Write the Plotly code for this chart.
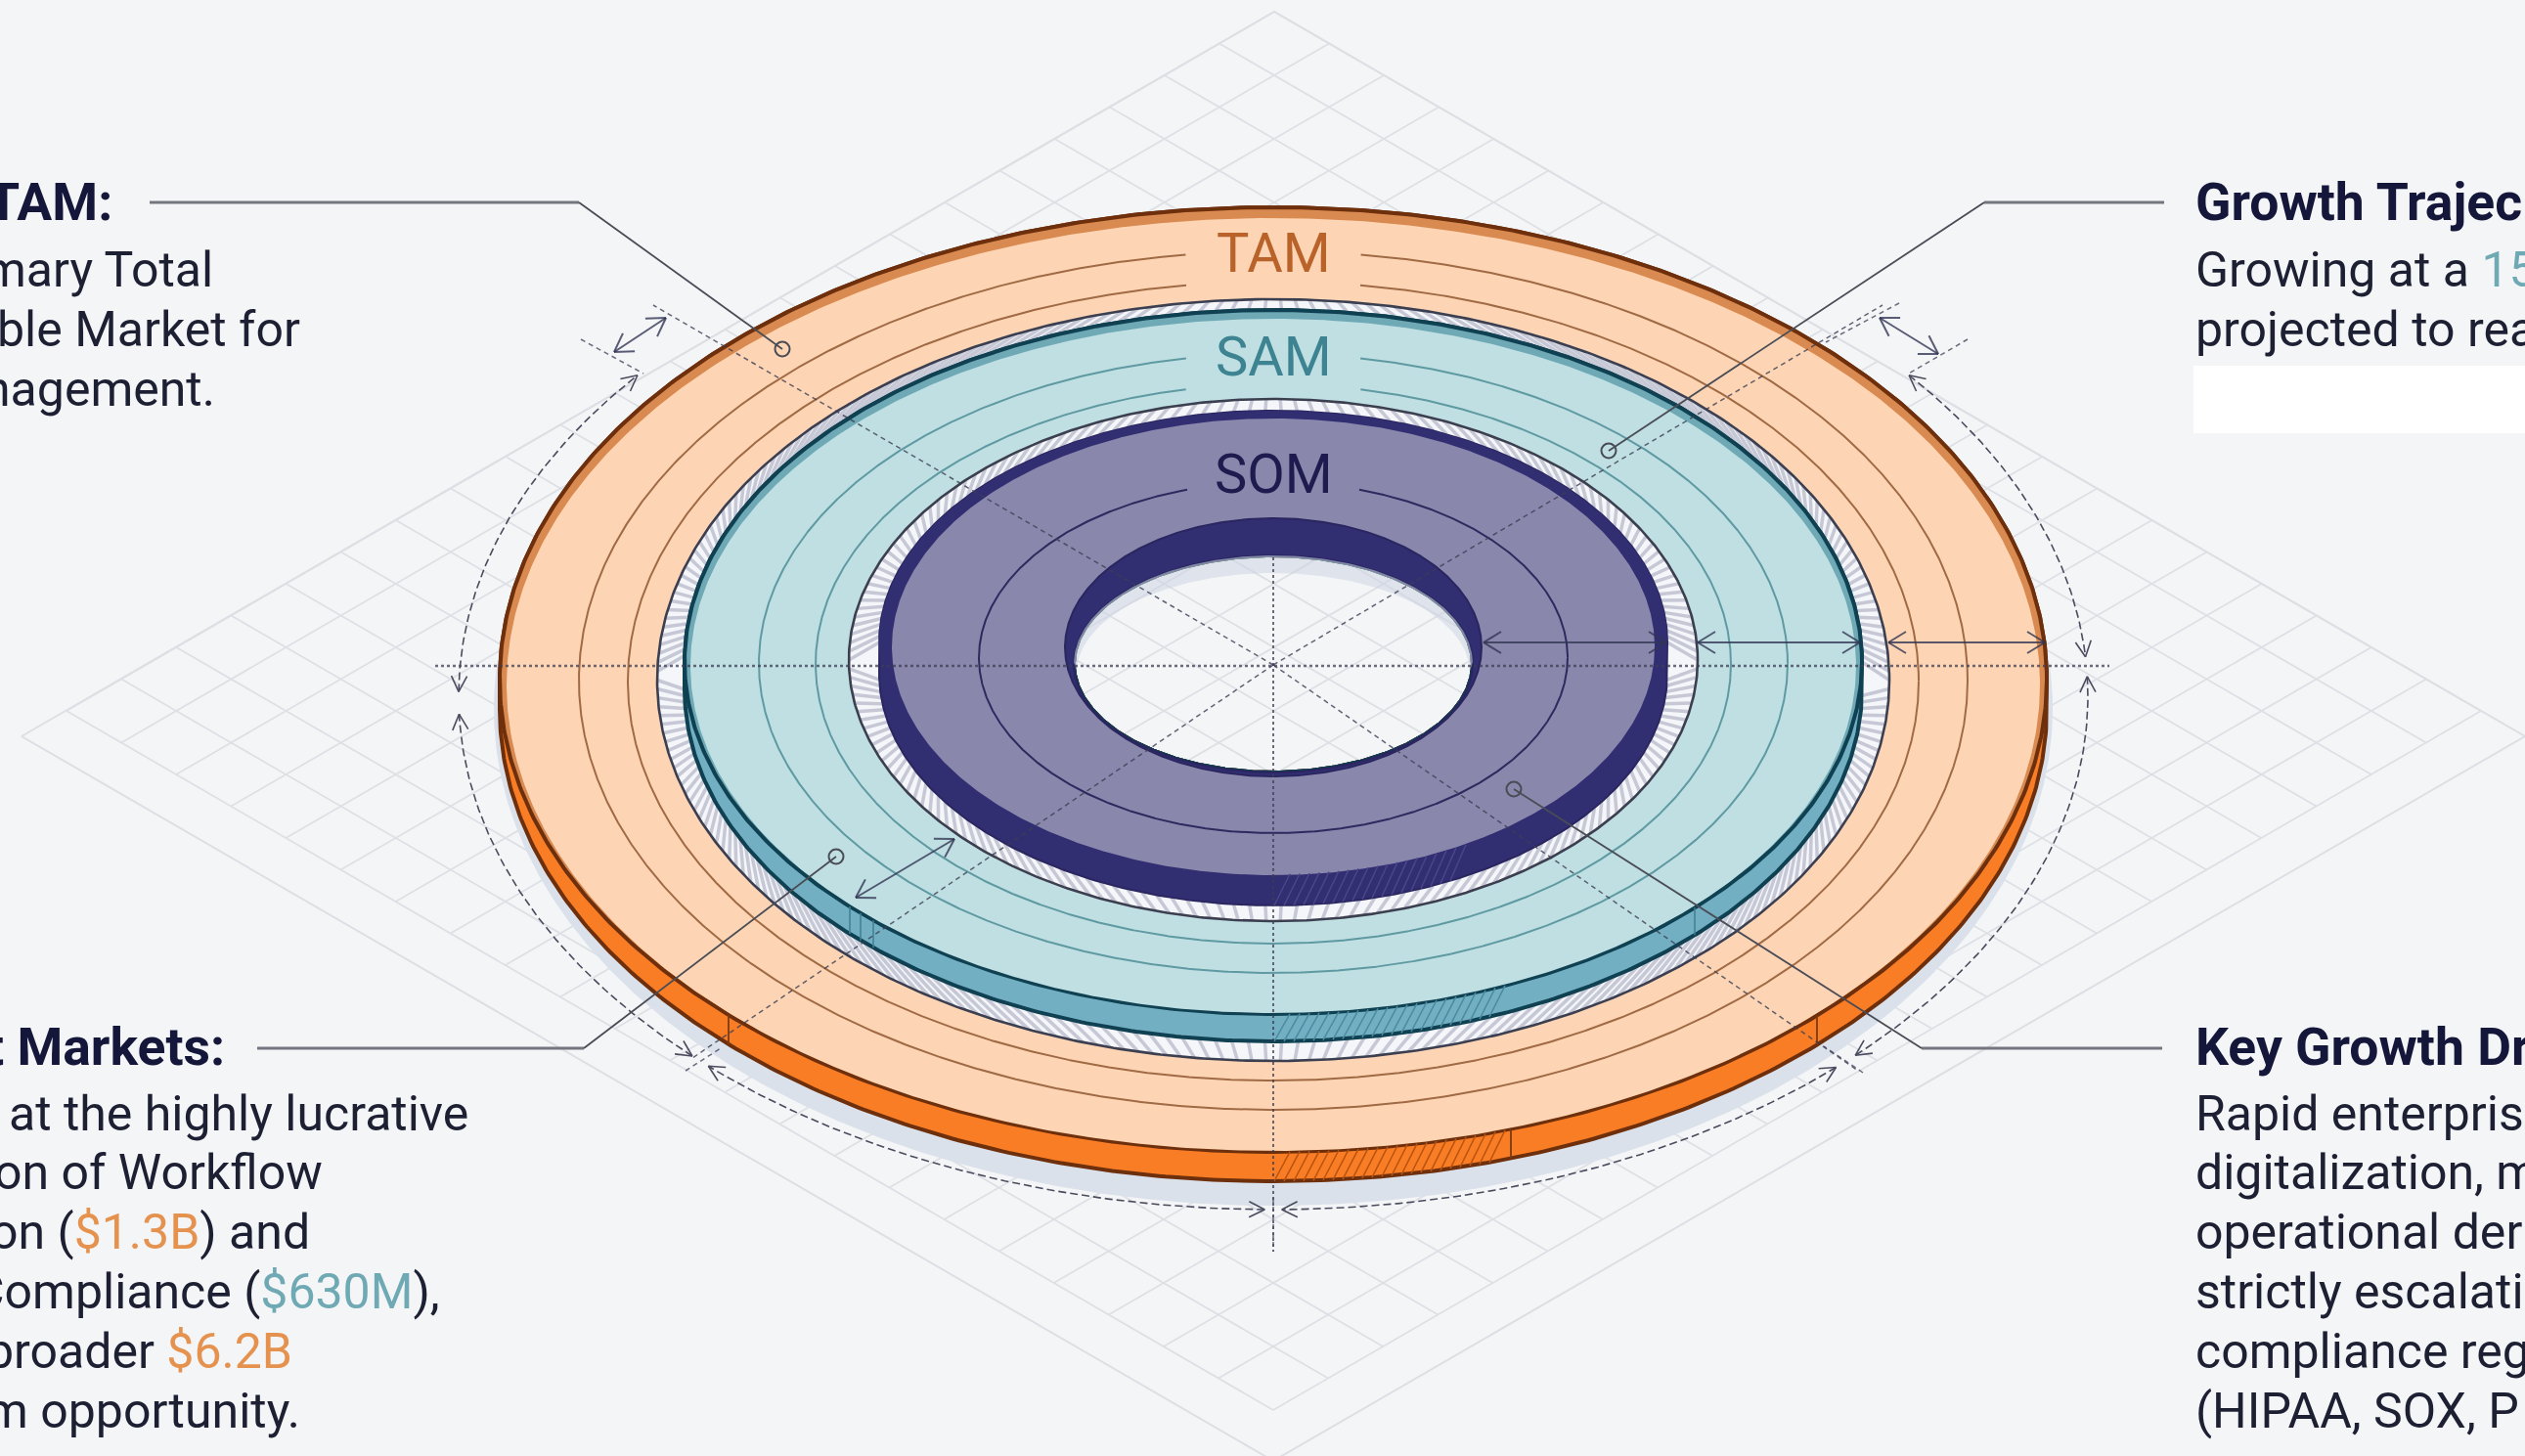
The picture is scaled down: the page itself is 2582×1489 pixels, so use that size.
import numpy as np
import plotly.graph_objects as go

W, H = 2582, 1489
BG = "#f4f5f7"
CX = 1302

# ---- disc geometry: centre y, x radius, y radius, wall depth
TAM_DISC = dict(cy=695, rx=791, ry=483, depth=30)
SAM_DISC = dict(cy=677, rx=602, ry=360, depth=28)
SOM_DISC = dict(cy=657, rx=403, ry=237, depth=32)
GAP_OUTER = dict(cy=695.5, rx=630, ry=389.5)
GAP_INNER = dict(cy=675, rx=434, ry=267)
HOLE_TOP = dict(cy=662, rx=213, ry=132)
HOLE = dict(cy=679, rx=204, ry=111)
SHADOW = dict(cy=725, rx=797, ry=508)
DIM_ARC = dict(cy=712, rx=833, ry=525)

TAM_RINGS = [(696, 710, 439), (696.5, 660, 408.5)]
SAM_RINGS = [(678.5, 526, 316.5), (679, 468, 286)]
SOM_RINGS = [(672.5, 301, 179.5)]

LABELS = ["TAM", "SAM", "SOM"]
LABEL_Y = [259, 365, 485]
LABEL_COL = ["#b9622a", "#3d8391", "#1e1b4e"]

# floor grid corners
GRID_LEFT = (68, 727)
GRID_TOP = (1303, 12)
GRID_BOTTOM = (1302, 1442)
GRID_CELLS = 22
GRID_OUTLINE = [(22, 753), (1303, 12), (2582, 753), (1302, 1494), (22, 753)]

SPOKES = [(668, 312), (1925, 312), (708, 1082), (1900, 1095)]
DIM_ARROWS = [((1517, 657), (1704, 657)), ((1736, 657), (1902, 657)), ((1931, 657), (2091, 657)),
              ((681, 325), (628, 360)), ((1922, 325), (1982, 362)), ((976, 858), (875, 918))]
DIM_TICKS = [((594, 347), (658, 382)), ((1942, 310), (1867, 350)), ((2012, 347), (1950, 383)),
             ((701, 1095), (737, 1072)), ((1905, 1097), (1865, 1070)), ((1302, 1225), (1302, 1280))]
ARC_SPANS_DEG = [(-38.7, -4.4), (-2.2, 44.4), (46.3, 89.4), (90.6, 133.9), (135.5, 178), (180.5, 218.7)]

LEADERS = [
    ((153, 207), (592, 207), (800, 357)),
    ((2213, 207), (2029, 207), (1645, 461)),
    ((263, 1072), (597, 1072), (855, 876)),
    ((2211, 1072), (1965, 1072), (1548, 807)),
]

ORANGE = "#e5924f"
TEAL = "#6fa9b3"
INK = "#1d2033"
HEAD = "#14163a"

# text, anchor x, y, bold
LEFT_TEXT = [
    ("TAM:", 117, 206, True),
    ("mary Total", 220, 276, False),
    ("ble Market for", 309, 337, False),
    ("nagement.", 222, 398, False),
    ("t Markets:", 232, 1070, True),
    ("at the highly lucrative", 481, 1139, False),
    ("on of Workflow", 332, 1199, False),
    (f"on (<span style='color:{ORANGE}'>$1.3B</span>) and", 319, 1260, False),
    (f"Compliance (<span style='color:{TEAL}'>$630M</span>),", 452, 1321, False),
    (f"broader <span style='color:{ORANGE}'>$6.2B</span>", 301, 1382, False),
    ("m opportunity.", 309, 1443, False),
]
RIGHT_TEXT = [
    ("Growth Trajec", 2243, 206, True),
    (f"Growing at a <span style='color:{TEAL}'>15</span>", 2243, 276, False),
    ("projected to rea", 2243, 337, False),
    ("Key Growth Dr", 2243, 1070, True),
    ("Rapid enterpris", 2243, 1139, False),
    ("digitalization, m", 2243, 1199, False),
    ("operational der", 2243, 1260, False),
    ("strictly escalati", 2243, 1321, False),
    ("compliance reg", 2243, 1382, False),
    ("(HIPAA, SOX, P", 2243, 1443, False),
]

fig = go.Figure()


def ell(cy, rx, ry, n=721, cx=CX):
    t = np.linspace(0, 2 * np.pi, n)
    return cx + rx * np.cos(t), cy + ry * np.sin(t)


def hull(d, n=721):
    t = np.linspace(0, 2 * np.pi, n)
    s = np.sin(t)
    return CX + d["rx"] * np.cos(t), d["cy"] + d["ry"] * s + d["depth"] * (s > 0)


def add_line(x, y, color, width=1.5, dash=None):
    fig.add_trace(go.Scatter(x=list(x), y=list(y), mode="lines", hoverinfo="skip",
                             line=dict(color=color, width=width, dash=dash)))


def add_fill(x, y, color, line=None, width=0, hole=None):
    x, y = list(x), list(y)
    if hole is not None:
        hx, hy = ell(hole["cy"], hole["rx"], hole["ry"])
        x += [None] + list(hx[::-1])
        y += [None] + list(hy[::-1])
    fig.add_trace(go.Scatter(x=x, y=y, mode="lines", fill="toself", fillcolor=color, hoverinfo="skip",
                             line=dict(color=line or "rgba(0,0,0,0)", width=width)))


def segs(pairs):
    xs, ys = [], []
    for a, b in pairs:
        xs += [a[0], b[0], None]
        ys += [a[1], b[1], None]
    return xs, ys


# ---- isometric floor grid
L = np.array(GRID_LEFT, float)
up = np.array(GRID_TOP, float) - L
down = np.array(GRID_BOTTOM, float) - L
pairs = []
for i in range(GRID_CELLS + 1):
    f = i / GRID_CELLS
    pairs.append((L + up * f, L + up * f + down))
    pairs.append((L + down * f, L + down * f + up))
x, y = segs(pairs)
add_line(x, y, "#dde0e4", 1.8)
add_line([p[0] for p in GRID_OUTLINE], [p[1] for p in GRID_OUTLINE], "#dcdfe3", 2)

# ---- shadow
sx, sy = ell(SHADOW["cy"], SHADOW["rx"], SHADOW["ry"])
add_fill(sx, sy, "#dbe1ea", hole=HOLE)

# ---- TAM
hx, hy = hull(TAM_DISC)
add_fill(hx, hy, "#f97d25", "#6e2f0c", 4, hole=HOLE)
ex, ey = ell(TAM_DISC["cy"], TAM_DISC["rx"], TAM_DISC["ry"])
add_fill(ex, ey, "#d98a50", "#6e2f0c", 4, hole=HOLE)
ex, ey = ell(TAM_DISC["cy"] + 5, TAM_DISC["rx"] - 7, TAM_DISC["ry"] - 6)
add_fill(ex, ey, "#fdd5b4", hole=HOLE)


def arc_gap(cy, rx, ry, gap=88):
    x, y = ell(cy, rx, ry, 1441)
    mask = (np.abs(x - CX) < gap) & (y < cy)
    xs = [None if m else float(v) for v, m in zip(x, mask)]
    ys = [None if m else float(v) for v, m in zip(y, mask)]
    return xs, ys


for cy, rx, ry in TAM_RINGS:
    x, y = arc_gap(cy, rx, ry)
    add_line(x, y, "#a06a45", 2)


def wall_hatch(d, x0, x1, color, shift=16, step=10):
    pairs = []
    for xb in np.arange(x0, x1 - shift, step):
        xt = xb + shift
        yt = d["cy"] + d["ry"] * np.sqrt(1 - ((xt - CX) / d["rx"]) ** 2)
        yb = d["cy"] + d["depth"] + d["ry"] * np.sqrt(1 - ((xb - CX) / d["rx"]) ** 2)
        pairs.append(((xb, yb), (xt, yt)))
    x, y = segs(pairs)
    add_line(x, y, color, 1.5)


def wall_tick(d, xpos, color, width=1.8):
    yt = d["cy"] + d["ry"] * np.sqrt(1 - ((xpos - CX) / d["rx"]) ** 2)
    add_line([xpos, xpos], [yt, yt + d["depth"]], color, width)


wall_hatch(TAM_DISC, 1303, 1545, "#b85310")
for xp in (1545, 745, 1858):
    wall_tick(TAM_DISC, xp, "#7a3a12")


def gap_hatch(outer, inner, n, color="#c6c8d6"):
    pairs = []
    for t in np.linspace(0, 2 * np.pi, n, endpoint=False):
        tp = t - 0.11 * np.sin(2 * t)
        o = (CX + outer["rx"] * np.cos(t), outer["cy"] + outer["ry"] * np.sin(t))
        s = np.sin(tp)
        i = (CX + inner["rx"] * np.cos(tp), inner["cy"] + inner["ry"] * s + inner.get("depth", 0) * (s > 0))
        pairs.append((o, i))
    x, y = segs(pairs)
    add_line(x, y, color, 3.5)


# ---- gap TAM/SAM
ex, ey = ell(GAP_OUTER["cy"], GAP_OUTER["rx"], GAP_OUTER["ry"])
add_fill(ex, ey, "#f5f6f9", hole=HOLE)
gap_hatch(GAP_OUTER, SAM_DISC, 270)
add_line(ex, ey, "#3b3f50", 2.6)

# ---- SAM
hx, hy = hull(SAM_DISC)
add_fill(hx, hy, "#72afc2", "#0f4152", 4, hole=HOLE)
ex, ey = ell(SAM_DISC["cy"], SAM_DISC["rx"], SAM_DISC["ry"])
add_fill(ex, ey, "#6ea9b5", "#0f4152", 4, hole=HOLE)
ex, ey = ell(SAM_DISC["cy"] + 4, SAM_DISC["rx"] - 6, SAM_DISC["ry"] - 5)
add_fill(ex, ey, "#bfdfe2", hole=HOLE)
for cy, rx, ry in SAM_RINGS:
    x, y = arc_gap(cy, rx, ry)
    add_line(x, y, "#5f9aa3", 2)
wall_hatch(SAM_DISC, 1303, 1540, "#4a8ba0")
for xp in (869, 880, 893, 1733):
    wall_tick(SAM_DISC, xp, "#3e7f92", 1.5)

# ---- gap SAM/SOM
ex, ey = ell(GAP_INNER["cy"], GAP_INNER["rx"], GAP_INNER["ry"])
add_fill(ex, ey, "#f5f6f9", hole=HOLE)
gap_hatch(GAP_INNER, SOM_DISC, 190)
add_line(ex, ey, "#3b3f50", 2.6)

# ---- SOM
hx, hy = hull(SOM_DISC)
add_fill(hx, hy, "#322e72", "#2a265f", 2, hole=HOLE)
ex, ey = ell(SOM_DISC["cy"], SOM_DISC["rx"], SOM_DISC["ry"])
add_fill(ex, ey, "#322e72", hole=HOLE)
ex, ey = ell(SOM_DISC["cy"] + 4.5, SOM_DISC["rx"] - 13, SOM_DISC["ry"] - 3.5)
add_fill(ex, ey, "#8a87ac", hole=HOLE_TOP)
for cy, rx, ry in SOM_RINGS:
    x, y = arc_gap(cy, rx, ry)
    add_line(x, y, "#2c2a5e", 2)
wall_hatch(SOM_DISC, 1303, 1505, "#4a468a")
# hole wall
ex, ey = ell(HOLE_TOP["cy"], HOLE_TOP["rx"], HOLE_TOP["ry"])
add_fill(ex, ey, "#322e72", "#2a265f", 2, hole=HOLE)
# soft shade at the top of the opening
hx, hy = ell(HOLE["cy"], HOLE["rx"], HOLE["ry"], 361)
ix, iy = ell(HOLE["cy"] + 9, HOLE["rx"] - 3, HOLE["ry"] - 9, 361)
mask = hy < HOLE["cy"]
imask = iy < HOLE["cy"] + 9
add_fill(list(hx[mask]) + list(ix[imask][::-1]), list(hy[mask]) + list(iy[imask][::-1]),
         "rgba(205,212,228,0.55)")

# ---- centre lines
DOT = "rgba(60,62,84,0.75)"
add_line([445, 2157], [681, 681], DOT, 2.5, "dot")
add_line([CX, CX], [570, 1280], DOT, 2, "3px,3px")
sp_x, sp_y = segs([((CX, 680), s) for s in SPOKES])
add_line(sp_x, sp_y, "rgba(60,62,84,0.8)", 1.5, "5px,4px")
tk_x, tk_y = segs(DIM_TICKS)
add_line(tk_x, tk_y, "rgba(70,72,92,0.8)", 1.5, "5px,4px")


# ---- dimension arc
def head(tip, frm, size=15, half=8):
    d = np.array(tip, float) - np.array(frm, float)
    d /= np.linalg.norm(d)
    n = np.array([-d[1], d[0]])
    t = np.array(tip, float)
    return [((t - d * size + n * half), t), ((t - d * size - n * half), t)]


head_pairs = []
for a, b in ARC_SPANS_DEG:
    t = np.radians(np.linspace(a, b, 80))
    x = CX + DIM_ARC["rx"] * np.cos(t)
    y = DIM_ARC["cy"] + DIM_ARC["ry"] * np.sin(t)
    add_line(x, y, "#4a4c5e", 1.6, "8px,4px")
    head_pairs += head((x[0], y[0]), (x[3], y[3]), 16, 8)
    head_pairs += head((x[-1], y[-1]), (x[-4], y[-4]), 16, 8)
hxs, hys = segs(head_pairs)
add_line(hxs, hys, "#4a4c5e", 1.6)

# ---- dimension arrows
ap = []
for p, q in DIM_ARROWS:
    ap.append((p, q))
    ap += head(p, q, 18, 11) + head(q, p, 18, 11)
ax_, ay_ = segs(ap)
add_line(ax_, ay_, "rgba(50,54,84,0.8)", 2)

# ---- leaders
for start, knee, end in LEADERS:
    add_line([start[0], knee[0]], [start[1], knee[1]], "#74767f", 3)
    add_line([knee[0], end[0]], [knee[1], end[1]], "#4a4c55", 1.8)
    fig.add_trace(go.Scatter(x=[end[0]], y=[end[1]], mode="markers", hoverinfo="skip",
                             marker=dict(symbol="circle-open", size=15, color="#4a4c55", line=dict(width=2))))

# ---- blanked box at right
fig.add_trace(go.Scatter(x=[2243, 2582, 2582, 2243, 2243], y=[374, 374, 443, 443, 374], mode="lines",
                         fill="toself", fillcolor="#ffffff", hoverinfo="skip", line=dict(width=0)))

ann = []
for name, yy, col in zip(LABELS, LABEL_Y, LABEL_COL):
    ann.append(dict(x=CX, y=yy, text=name, xanchor="center", yanchor="middle", showarrow=False,
                    font=dict(family="Roboto", size=56, color=col)))
for txt, xx, yy, bold in LEFT_TEXT + RIGHT_TEXT:
    right = xx < 1000
    ann.append(dict(x=xx, y=yy, text=f"<b>{txt}</b>" if bold else txt, showarrow=False,
                    xanchor="right" if right else "left", yanchor="middle",
                    font=dict(family="Roboto", size=53.5 if bold else 50, color=HEAD if bold else INK)))

fig.update_layout(width=W, height=H, margin=dict(l=0, r=0, t=0, b=0), paper_bgcolor=BG, plot_bgcolor=BG,
                  showlegend=False, annotations=ann,
                  xaxis=dict(range=[0, W], visible=False, fixedrange=True),
                  yaxis=dict(range=[H, 0], visible=False, fixedrange=True))
fig.write_html("out.html", config={"displayModeBar": False},
               post_script="document.body.style.margin='0';document.body.style.background='%s';" % BG)
